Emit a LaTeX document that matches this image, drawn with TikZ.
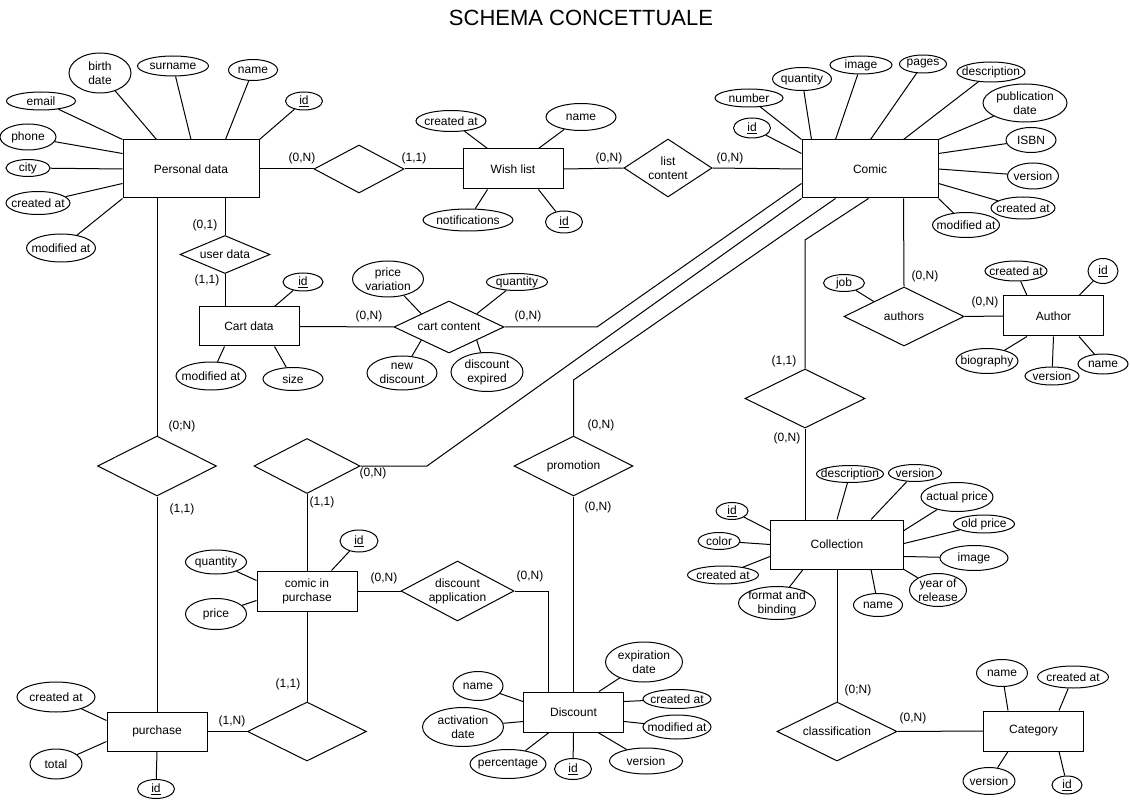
\documentclass[tikz,border=0pt]{standalone}
\usepackage{fontspec}
\setmainfont{Liberation Sans}
\usetikzlibrary{shapes.geometric,calc}
\tikzset{
 base/.style={font=\fontsize{12}{14}\selectfont},
 lbl/.style={base, align=center, inner sep=0pt},
 sz/.style 2 args={minimum width=#1pt, minimum height=#2pt},
 ent/.style={draw, rectangle, inner sep=0pt, base, align=center},
 attr/.style={draw, ellipse, inner sep=0pt, label={[lbl]center:#1}},
 rel/.style={draw, diamond, inner sep=0pt, label={[lbl]center:#1}},
 rel/.default={},
 card/.style={base, inner sep=0pt},
}
\begin{document}
\begin{tikzpicture}[x=1pt,y=-1pt, line width=1pt]
\fill[white] (0,0) rectangle (1130,802);
\useasboundingbox (0,0) rectangle (1130,802);

\node[font=\fontsize{22}{26}\selectfont, inner sep=0pt] (title) at (581,18) {SCHEMA CONCETTUALE};

% ---------- entities ----------
\node[ent, sz={136}{58}] (pd) at (191,169) {Personal data};
\node[ent, sz={100}{40}] (wl) at (513,169) {Wish list};
\node[ent, sz={136}{58}] (comic) at (870,169) {Comic};
\node[ent, sz={100}{39}] (cart) at (249,326.5) {Cart data};
\node[ent, sz={100}{40}] (author) at (1053.5,316) {Author};
\node[ent, sz={133}{49}] (coll) at (837,544.5) {Collection};
\node[ent, sz={100}{40}] (cat) at (1033.5,731) {Category};
\node[ent, sz={100}{40}] (cip) at (307,591) {comic in\\purchase};
\node[ent, sz={100}{39}] (pur) at (157,731.5) {purchase};
\node[ent, sz={100}{40}] (disc) at (573.5,712) {Discount};

% ---------- relationships ----------
\node[rel, sz={90}{48}] (rpw) at (359,169) {};
\node[rel={list\\content}, sz={88}{58}] (lc) at (668,168) {};
\node[rel={user data}, sz={90}{38}] (ud) at (225,254.5) {};
\node[rel={cart content}, sz={110}{52}] (cc) at (449,327) {};
\node[rel={authors}, sz={120}{59}] (auth) at (904,316.5) {};
\node[rel, sz={120}{59}] (dcol) at (805,398.5) {};
\node[rel, sz={119}{60}] (dpd) at (157,466) {};
\node[rel, sz={106}{55}] (dpur) at (307,466) {};
\node[rel, sz={119}{59}] (dbot) at (307,731.5) {};
\node[rel={promotion}, sz={119}{60}] (promo) at (573.5,466) {};
\node[rel={discount\\application}, sz={113}{60}] (dapp) at (457.5,591) {};
\node[rel={classification}, sz={120}{59}] (cls) at (837,731.5) {};

% ---------- attributes: Personal data ----------
\node[attr={birth\\date}, sz={62}{40}] (pbd) at (100,73) {};
\node[attr={surname}, sz={71}{20}] (psur) at (173,66) {};
\node[attr={name}, sz={49}{21}] (pname) at (253,70) {};
\node[attr={\underline{id}}, sz={37}{18}] (pid) at (304,101) {};
\node[attr={email}, sz={69}{18}] (pemail) at (41,101) {};
\node[attr={phone}, sz={56}{26}] (pphone) at (28,137) {};
\node[attr={city}, sz={44}{17}] (pcity) at (28,168) {};
\node[attr={created at}, sz={64}{23}] (pcre) at (38,203) {};
\node[attr={modified at}, sz={69}{28}] (pmod) at (61,248) {};

% Wish list
\node[attr={created at}, sz={70}{21}] (wcre) at (451,121) {};
\node[attr={name}, sz={70}{27}] (wname) at (581,117) {};
\node[attr={notifications}, sz={90}{22}] (wnot) at (468,220) {};
\node[attr={\underline{id}}, sz={37}{22}] (wid) at (564,222) {};

% Comic
\node[attr={number}, sz={68}{18}] (cnum) at (749,98) {};
\node[attr={quantity}, sz={59}{23}] (cqty) at (802,79) {};
\node[attr={image}, sz={62}{18}] (cimg) at (861,65) {};
\node[attr={pages}, sz={47}{18}] (cpag) at (923,64) {};
\node[attr={description}, sz={68}{20}] (cdes) at (991,72) {};
\node[attr={publication\\date}, sz={84}{38}] (cpub) at (1025,103) {};
\node[attr={ISBN}, sz={50}{25}] (cisbn) at (1031,140) {};
\node[attr={version}, sz={51}{26}] (cver) at (1033,176) {};
\node[attr={created at}, sz={64}{22}] (ccre) at (1023,208) {};
\node[attr={modified at}, sz={67}{25}] (cmod) at (966,225) {};
\node[attr={\underline{id}}, sz={37}{20}] (cid) at (752,128) {};

% Cart data
\node[attr={\underline{id}}, sz={40}{18}] (kid) at (303,282) {};
\node[attr={modified at}, sz={70}{28}] (kmod) at (211,376) {};
\node[attr={size}, sz={60}{23}] (ksize) at (293,379) {};
% cart content
\node[attr={price\\variation}, sz={71}{36}] (vpv) at (388,279) {};
\node[attr={quantity}, sz={61}{17}] (vqty) at (517,282) {};
\node[attr={new\\discount}, sz={70}{34}] (vnd) at (402,373) {};
\node[attr={discount\\expired}, sz={72}{39}] (vde) at (487,372) {};

% Author
\node[attr={created at}, sz={62}{20}] (acre) at (1016,271) {};
\node[attr={\underline{id}}, sz={30}{25}] (aid) at (1103,271) {};
\node[attr={biography}, sz={62}{25}] (abio) at (987,361) {};
\node[attr={version}, sz={54}{18}] (aver) at (1052,376) {};
\node[attr={name}, sz={50}{20}] (aname) at (1103,364) {};
\node[attr={job}, sz={41}{17}] (job) at (844,283) {};

% Collection
\node[attr={\underline{id}}, sz={32}{17}] (lid) at (732,511) {};
\node[attr={color}, sz={42}{17}] (lcol) at (719,541) {};
\node[attr={created at}, sz={71}{18}] (lcre) at (723,575) {};
\node[attr={format and\\binding}, sz={77}{33}] (lfmt) at (777,603) {};
\node[attr={description}, sz={67}{17}] (ldes) at (850,474) {};
\node[attr={version}, sz={53}{17}] (lver) at (915,473) {};
\node[attr={actual price}, sz={72}{29}] (lact) at (957,497) {};
\node[attr={old price}, sz={61}{18}] (lold) at (984,524) {};
\node[attr={image}, sz={68}{25}] (limg) at (974,558) {};
\node[attr={year of\\release}, sz={57}{33}] (lyr) at (938,590) {};
\node[attr={name}, sz={49}{23}] (lname) at (878,605) {};

% Category
\node[attr={name}, sz={51}{27}] (gname) at (1002,673) {};
\node[attr={created at}, sz={71}{22}] (gcre) at (1073,677) {};
\node[attr={version}, sz={52}{27}] (gver) at (989,781) {};
\node[attr={\underline{id}}, sz={30}{18}] (gid) at (1067,785) {};

% comic in purchase
\node[attr={\underline{id}}, sz={38}{22}] (qid) at (359,541) {};
\node[attr={quantity}, sz={61}{24}] (qqty) at (216,562) {};
\node[attr={price}, sz={61}{31}] (qpr) at (216,614) {};

% purchase
\node[attr={created at}, sz={78}{30}] (ucre) at (56,697) {};
\node[attr={total}, sz={52}{30}] (utot) at (56,764) {};
\node[attr={\underline{id}}, sz={37}{19}] (uid) at (156,789) {};

% Discount
\node[attr={expiration\\date}, sz={77}{40}] (dexp) at (644,662) {};
\node[attr={created at}, sz={68}{19}] (dcre) at (677,699) {};
\node[attr={modified at}, sz={68}{24}] (dmod) at (677,727) {};
\node[attr={version}, sz={73}{26}] (dver) at (646,761) {};
\node[attr={\underline{id}}, sz={37}{21}] (did) at (573,769) {};
\node[attr={percentage}, sz={76}{29}] (dper) at (508,764) {};
\node[attr={activation\\date}, sz={81}{39}] (dact) at (463,727) {};
\node[attr={name}, sz={50}{29}] (dname) at (478,686) {};

% ---------- attribute links ----------
\draw (pemail) -- (pd.north west);
\draw (pbd) -- ($(pd.north west)+(34,0)$);
\draw (psur) -- (pd.north);
\draw (pname) -- ($(pd.north west)+(103,0)$);
\draw (pid) -- (pd.north east);
\draw (pphone) -- ($(pd.north west)+(0,14)$);
\draw (pcity) -- (pd.west);
\draw (pcre) -- ($(pd.north west)+(0,44)$);
\draw (pmod) -- (pd.south west);

\draw (wcre) -- ($(wl.north west)+(25,0)$);
\draw (wname) -- ($(wl.north west)+(76,0)$);
\draw (wnot) -- ($(wl.south west)+(25,0)$);
\draw (wid) -- ($(wl.south west)+(76,0)$);

\draw (cid) -- ($(comic.north west)+(0,14)$);
\draw (cnum) -- (comic.north west);
\draw (cqty) -- ($(comic.north west)+(10,0)$);
\draw (cimg) -- ($(comic.north west)+(34,0)$);
\draw (cpag) -- ($(comic.north west)+(69,0)$);
\draw (cdes) -- ($(comic.north west)+(102,0)$);
\draw (cpub) -- (comic.north east);
\draw (cisbn) -- ($(comic.north east)+(0,14)$);
\draw (cver) -- (comic.east);
\draw (ccre) -- ($(comic.north east)+(0,44)$);
\draw (cmod) -- (comic.south east);

\draw (kid) -- ($(cart.north west)+(76,0)$);
\draw (kmod) -- ($(cart.south west)+(26,0)$);
\draw (ksize) -- ($(cart.south west)+(76,0)$);
\draw (vpv) -- (cc.north west);
\draw (vqty) -- (cc.north east);
\draw (vnd) -- (cc.south west);
\draw (vde) -- (cc.south east);

\draw (acre) -- ($(author.north west)+(24,0)$);
\draw (aid) -- ($(author.north west)+(76,0)$);
\draw (abio) -- ($(author.south west)+(24,0)$);
\draw (aver) -- (author.south);
\draw (aname) -- ($(author.south west)+(76,0)$);
\draw (job) -- (auth.north west);

\draw (lid) -- ($(coll.north west)+(0,11)$);
\draw (lcol) -- ($(coll.north west)+(0,25)$);
\draw (lcre) -- ($(coll.north west)+(0,37)$);
\draw (lfmt) -- ($(coll.south west)+(33,0)$);
\draw (ldes) -- ($(coll.north west)+(67,0)$);
\draw (lver) -- ($(coll.north west)+(101,0)$);
\draw (lact) -- ($(coll.north east)+(0,11)$);
\draw (lold) -- ($(coll.north east)+(0,24)$);
\draw (limg) -- ($(coll.north east)+(0,37)$);
\draw (lyr) -- (coll.south east);
\draw (lname) -- ($(coll.south west)+(101,0)$);

\draw (gname) -- ($(cat.north west)+(25,0)$);
\draw (gcre) -- ($(cat.north west)+(76,0)$);
\draw (gver) -- ($(cat.south west)+(25,0)$);
\draw (gid) -- ($(cat.south west)+(76,0)$);

\draw (qid) -- ($(cip.north west)+(75,0)$);
\draw (qqty) -- ($(cip.north west)+(0,10)$);
\draw (qpr) -- ($(cip.north west)+(0,30)$);

\draw (ucre) -- ($(pur.north west)+(0,9)$);
\draw (utot) -- ($(pur.north west)+(0,30)$);
\draw (uid) -- (pur.south);

\draw (dexp) -- ($(disc.north west)+(76,0)$);
\draw (dcre) -- ($(disc.north east)+(0,10)$);
\draw (dmod) -- ($(disc.north east)+(0,30)$);
\draw (dver) -- ($(disc.south west)+(75,0)$);
\draw (did) -- (disc.south);
\draw (dper) -- ($(disc.south west)+(26,0)$);
\draw (dact) -- ($(disc.north west)+(0,30)$);
\draw (dname) -- ($(disc.north west)+(0,10)$);

% ---------- relationship links ----------
\coordinate (b1) at (597,327);
\coordinate (b2) at (427,466);
\coordinate (b3) at (573.5,380);
\coordinate (b4) at (805,240);

\draw (pd.east) -- (rpw.west);
\draw (rpw.east) -- (wl.west);
\draw (wl.east) -- (lc.west);
\draw (lc.east) -- (comic.west);
\draw (ud.north |- pd.south) -- (ud.north);
\draw (ud.south) -- (ud.south |- cart.north);
\draw (cart.east) -- (cc.west);
\draw ($(comic.north west)+(0,44)$) -- (b1) -- (cc.east);
\draw (comic.south west) -- (b2) -- (dpur.east);
\draw ($(comic.south west)+(34,0)$) -- (b3) -- (promo.north);
\draw ($(comic.south west)+(67,0)$) -- (b4) -- (dcol.north);
\draw ($(comic.south west)+(102,0)$) -- (auth.north);
\draw (auth.east) -- (author.west);
\draw (dcol.south) -- (dcol.south |- coll.north);
\draw (coll.south) -- (cls.north);
\draw (cls.east) -- (cat.west);
\draw (dpd.north |- pd.south) -- (dpd.north);
\draw (dpd.south) -- (pur.north);
\draw (dpur.south) -- (cip.north);
\draw (cip.south) -- (dbot.north);
\draw (pur.east) -- (dbot.west);
\draw (cip.east) -- (dapp.west);
\draw (dapp.east) -| ($(disc.north west)+(25,0)$);
\draw (promo.south) -- (disc.north);

% ---------- cardinalities ----------
\node[card] (k1) at (302,158) {(0,N)};
\node[card] (k2) at (414,158) {(1,1)};
\node[card] (k3) at (609,158) {(0,N)};
\node[card] (k4) at (730,158) {(0,N)};
\node[card] (k5) at (205,225) {(0,1)};
\node[card] (k6) at (207,280) {(1,1)};
\node[card] (k7) at (369,316) {(0,N)};
\node[card] (k8) at (528,316) {(0,N)};
\node[card] (k9) at (925,276) {(0,N)};
\node[card] (k10) at (985,302) {(0,N)};
\node[card] (k11) at (784,361) {(1,1)};
\node[card] (k12) at (787,438) {(0,N)};
\node[card] (k13) at (182,426) {(0;N)};
\node[card] (k14) at (182,509) {(1,1)};
\node[card] (k15) at (373,473) {(0,N)};
\node[card] (k16) at (322,502) {(1,1)};
\node[card] (k17) at (601,425) {(0,N)};
\node[card] (k18) at (598,507) {(0,N)};
\node[card] (k19) at (384,578) {(0,N)};
\node[card] (k20) at (530,576) {(0,N)};
\node[card] (k21) at (288,684) {(1,1)};
\node[card] (k22) at (232,721) {(1,N)};
\node[card] (k23) at (858,690) {(0;N)};
\node[card] (k24) at (913,718) {(0,N)};
\end{tikzpicture}
\end{document}
